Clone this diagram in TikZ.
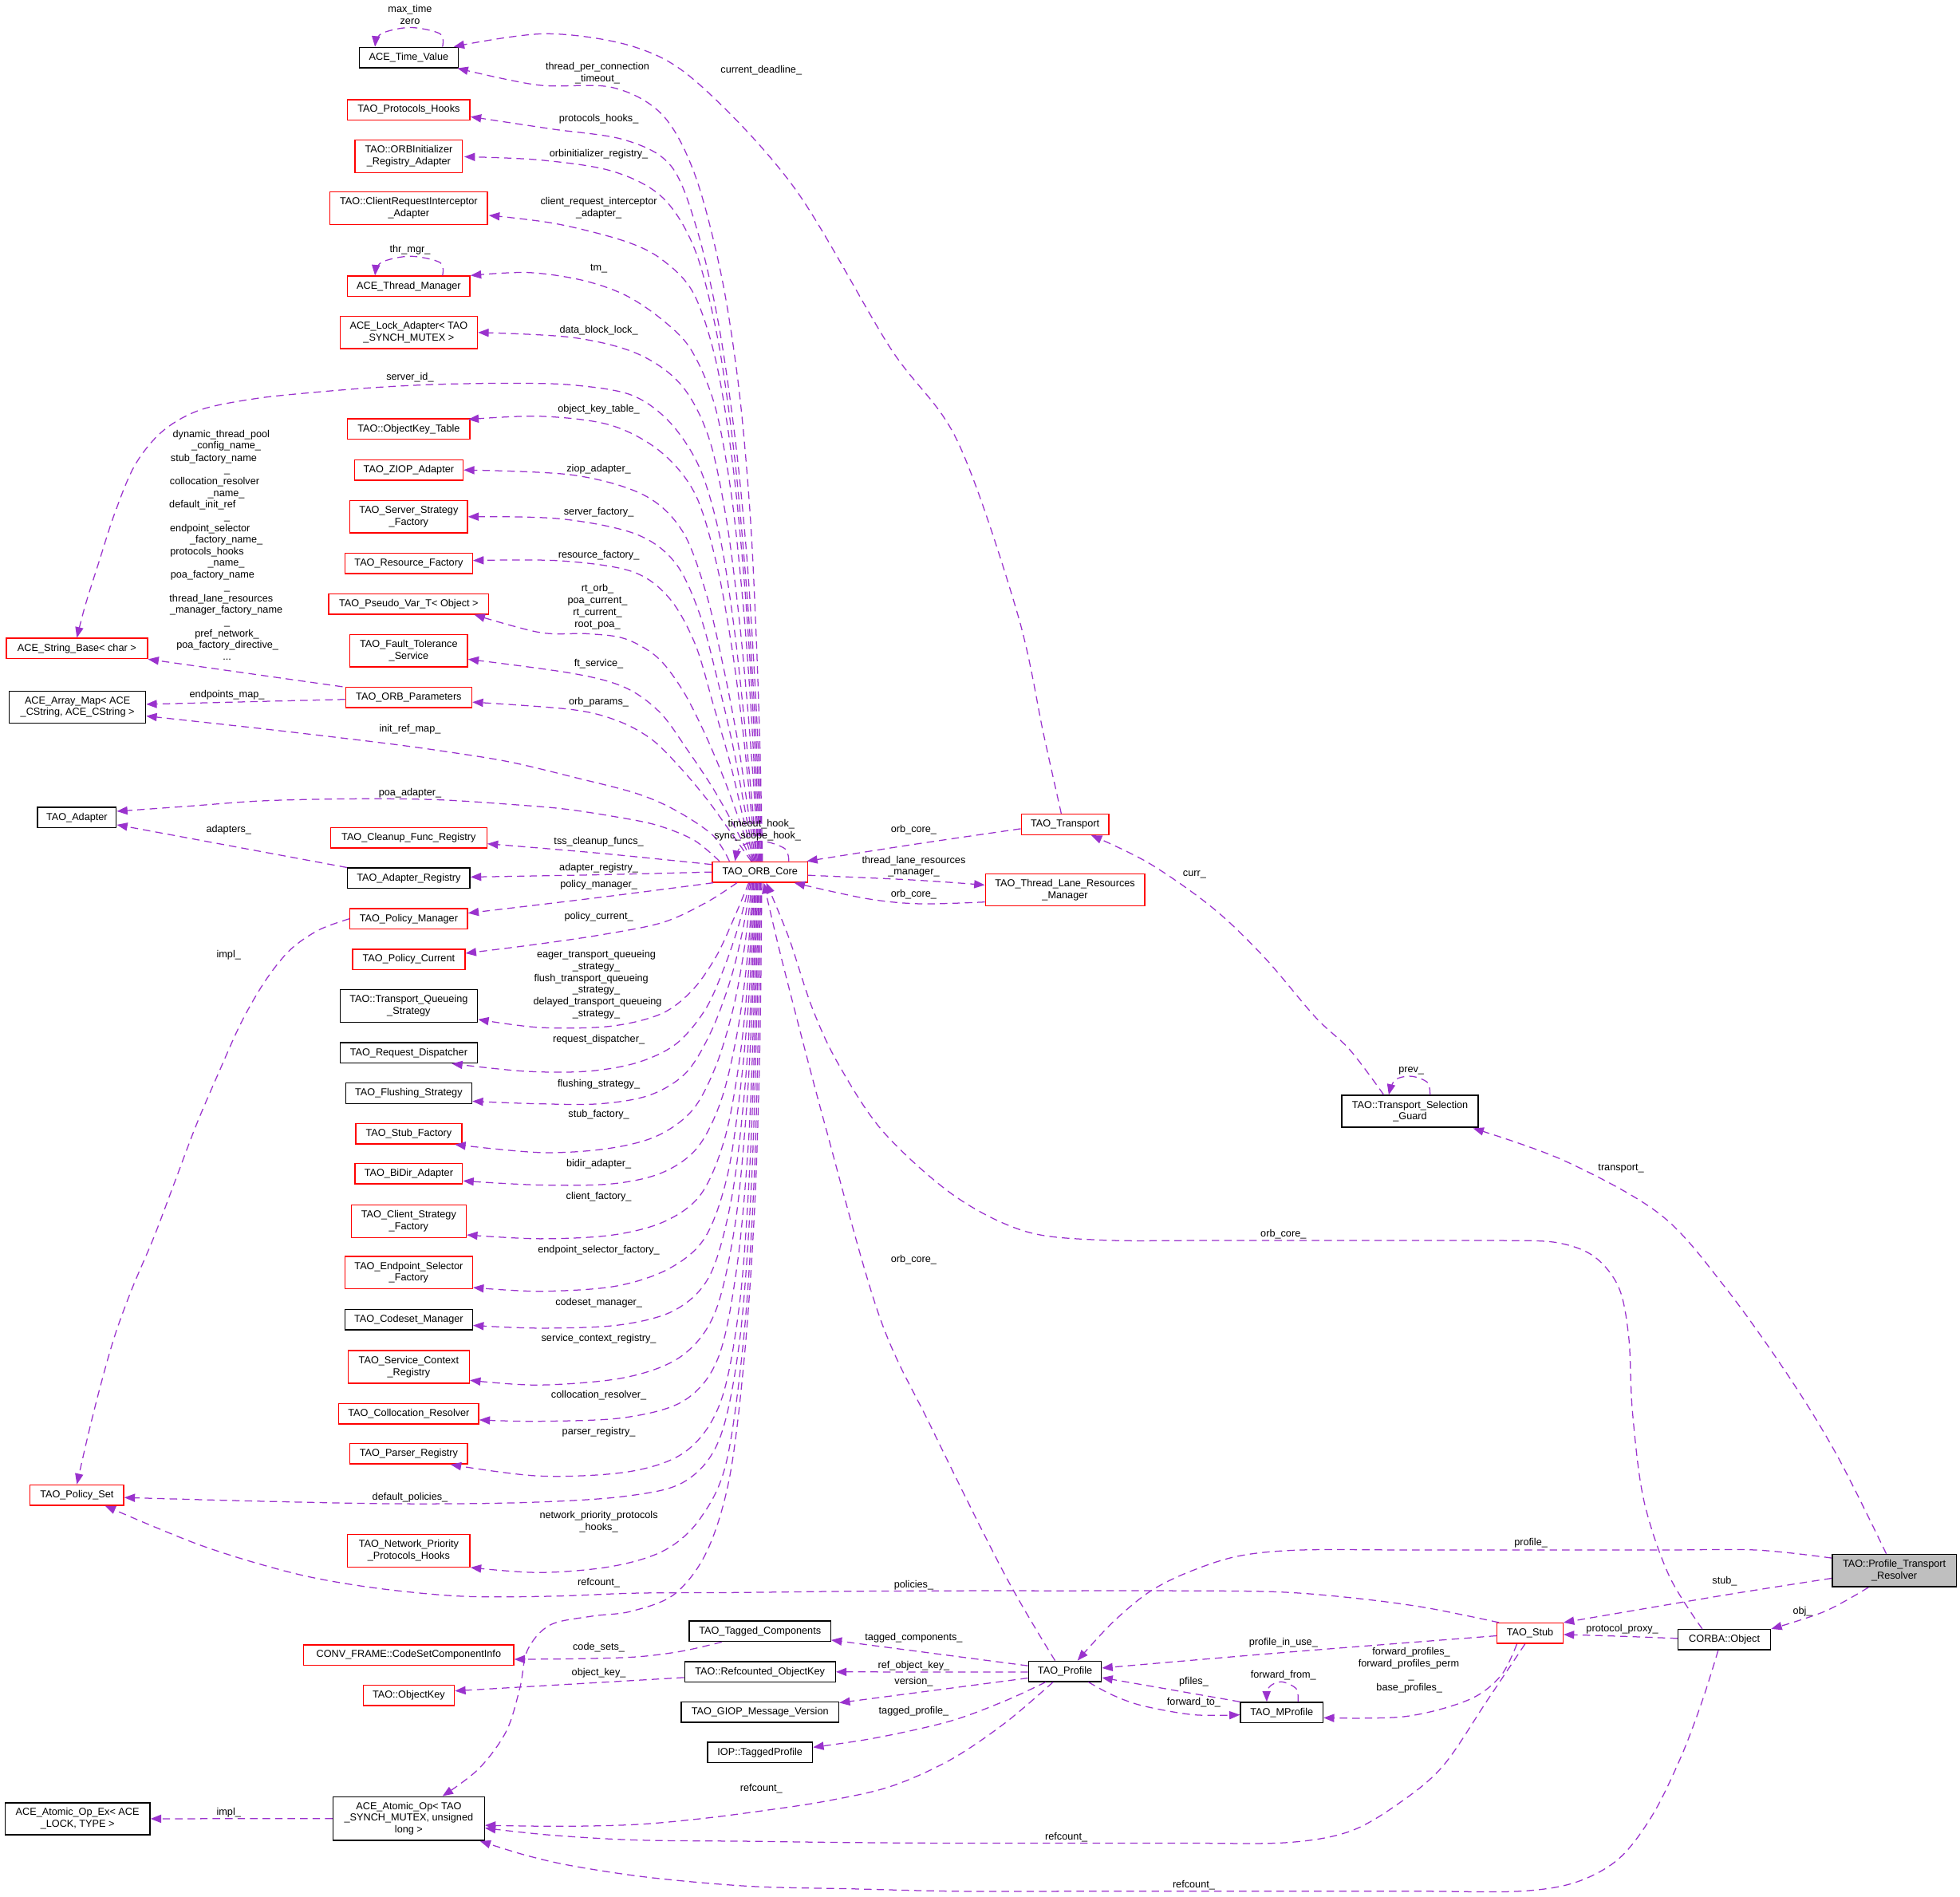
\documentclass[tikz,border=0pt]{standalone}
\usepackage{fontspec}
\setmainfont{Liberation Sans}
\usetikzlibrary{arrows.meta,calc}
\definecolor{ec}{RGB}{154,50,205}
\definecolor{gr}{RGB}{191,191,191}
\newcommand{\fs}{\fontsize{8.1}{9.4}\selectfont}
\tikzset{
 box/.style={rectangle, inner sep=1pt, align=center, font=\fs, line width=0.9pt},
 rbox/.style={box, draw=red},
 kbox/.style={box, draw=black},
 lbl/.style={inner sep=0pt, font=\fs, text height=6pt, text depth=1.6pt},
 e/.style={draw=ec, line width=0.8pt, dash pattern=on 6pt off 4pt, -{Triangle[length=8.5pt,width=6.5pt]}},
 sm/.style={smooth, tension=0.55}
}
\newcommand{\bx}[6]{\node[#1, minimum width=#2pt, minimum height=#3pt] (#4) at (#5) {#6};}
\newcommand{\lb}[3]{\node[lbl] (#1) at (#2) {#3};}
\begin{document}
\begin{tikzpicture}[x=1pt,y=-1pt]
\useasboundingbox (0,0) rectangle (1568,1517);
\fill[white] (0,0) rectangle (1568,1517);
% ---------- nodes ----------
\bx{kbox}{79}{16.3}{tv}{327,46}{ACE\_Time\_Value}
\bx{rbox}{98}{16.3}{ph}{327,87.8}{TAO\_Protocols\_Hooks}
\bx{rbox}{86}{26}{ori}{327,125}{TAO::ORBInitializer\\\_Registry\_Adapter}
\bx{rbox}{126}{26}{cri}{327,166.5}{TAO::ClientRequestInterceptor\\\_Adapter}
\bx{rbox}{98}{16.3}{thm}{327,229}{ACE\_Thread\_Manager}
\bx{rbox}{110}{26}{lock}{327,266}{ACE\_Lock\_Adapter< TAO\\\_SYNCH\_MUTEX >}
\bx{rbox}{98}{16.3}{okt}{327,343.2}{TAO::ObjectKey\_Table}
\bx{rbox}{87}{16.3}{ziop}{327,376}{TAO\_ZIOP\_Adapter}
\bx{rbox}{94}{26}{ssf}{327,413.4}{TAO\_Server\_Strategy\\\_Factory}
\bx{rbox}{102}{16.3}{rf}{327,450.8}{TAO\_Resource\_Factory}
\bx{rbox}{128}{16.3}{pv}{327,483.2}{TAO\_Pseudo\_Var\_T< Object >}
\bx{rbox}{94}{26}{ft}{327,520.5}{TAO\_Fault\_Tolerance\\\_Service}
\bx{rbox}{101}{16.3}{op}{327,558}{TAO\_ORB\_Parameters}
\bx{rbox}{113}{16.3}{sb}{61.5,518.8}{ACE\_String\_Base< char >}
\bx{kbox}{109}{25.5}{am}{62,565.6}{ACE\_Array\_Map< ACE\\\_CString, ACE\_CString >}
\bx{kbox}{63}{16.3}{ad}{61.5,654}{TAO\_Adapter}
\bx{rbox}{125}{16.3}{cf}{327,670.2}{TAO\_Cleanup\_Func\_Registry}
\bx{kbox}{98}{16.3}{ar}{327,702.6}{TAO\_Adapter\_Registry}
\bx{rbox}{76}{16.4}{orb}{608,697.6}{TAO\_ORB\_Core}
\bx{rbox}{94}{16.3}{pm}{327,735}{TAO\_Policy\_Manager}
\bx{rbox}{90}{16.3}{pc}{327,767.5}{TAO\_Policy\_Current}
\bx{kbox}{110}{26}{tqs}{327,804.7}{TAO::Transport\_Queueing\\\_Strategy}
\bx{kbox}{110}{16.3}{rd}{327,842.3}{TAO\_Request\_Dispatcher}
\bx{kbox}{101}{16.3}{fs}{327,874.6}{TAO\_Flushing\_Strategy}
\bx{rbox}{85}{16.3}{sf}{327,907}{TAO\_Stub\_Factory}
\bx{rbox}{86}{16.3}{bd}{327,939}{TAO\_BiDir\_Adapter}
\bx{rbox}{92}{26}{csf}{327,977}{TAO\_Client\_Strategy\\\_Factory}
\bx{rbox}{102}{26}{esf}{327,1018}{TAO\_Endpoint\_Selector\\\_Factory}
\bx{kbox}{102}{16.3}{cm}{327,1055.6}{TAO\_Codeset\_Manager}
\bx{rbox}{97}{26}{scr}{327,1093.5}{TAO\_Service\_Context\\\_Registry}
\bx{rbox}{112}{16.3}{cr}{327,1131}{TAO\_Collocation\_Resolver}
\bx{rbox}{94}{16.3}{pr}{327,1163}{TAO\_Parser\_Registry}
\bx{rbox}{75}{16.3}{ps}{61.5,1196}{TAO\_Policy\_Set}
\bx{rbox}{98}{26}{npph}{327,1240.5}{TAO\_Network\_Priority\\\_Protocols\_Hooks}
\bx{kbox}{113}{16.3}{tc}{608,1305}{TAO\_Tagged\_Components}
\bx{rbox}{168}{16.3}{csci}{327,1324}{CONV\_FRAME::CodeSetComponentInfo}
\bx{kbox}{120.6}{16.3}{rok}{608,1337.5}{TAO::Refcounted\_ObjectKey}
\bx{rbox}{73}{16.3}{ok}{327,1356.3}{TAO::ObjectKey}
\bx{kbox}{126}{16.3}{gmv}{608,1369.7}{TAO\_GIOP\_Message\_Version}
\bx{kbox}{84}{16.3}{itp}{608,1402}{IOP::TaggedProfile}
\bx{kbox}{116}{25.6}{aoe}{62,1455}{ACE\_Atomic\_Op\_Ex< ACE\\\_LOCK, TYPE >}
\bx{kbox}{121}{35}{ao}{327,1454.8}{ACE\_Atomic\_Op< TAO\\\_SYNCH\_MUTEX, unsigned\\long >}
\bx{rbox}{70}{16.5}{tr}{852,659.5}{TAO\_Transport}
\bx{rbox}{127.4}{25.6}{tlrm}{852,712}{TAO\_Thread\_Lane\_Resources\\\_Manager}
\bx{kbox}{109}{25.4}{tsg}{1128,889}{TAO::Transport\_Selection\\\_Guard}
\node[kbox, fill=gr, minimum width=99.3pt, minimum height=26pt] (ptr) at (1515.4,1256.4) {TAO::Profile\_Transport\\\_Resolver};
\bx{rbox}{52.7}{16.3}{stub}{1224,1306.6}{TAO\_Stub}
\bx{kbox}{74}{16.3}{co}{1379.5,1311.7}{CORBA::Object}
\bx{kbox}{58.3}{16.3}{prof}{852,1337}{TAO\_Profile}
\bx{kbox}{66}{16.3}{mp}{1025.4,1370}{TAO\_MProfile}
% ---------- edges: ORB_Core to upper left ----------
\draw[e] plot[sm] coordinates {($(orb.north)+(2,0)$) (608,600) (605,510) (600,410) (591,310) (577,220) (556,140) (530,92) (490,70) (430,68) ($(tv.south east)+(-1,0)$)};
\draw[e] plot[sm] coordinates {($(orb.north)+(1.3,0)$) (607,610) (603,530) (597,440) (588,350) (575,260) (558,185) (537,133) (500,112) (440,103) ($(ph.east)+(0,5.6)$)};
\draw[e] plot[sm] coordinates {($(orb.north)+(0.6,0)$) (606,615) (602,540) (596,455) (587,360) (574,270) (556,200) (530,158) (490,137) (432,128) ($(ori.east)+(1,0.4)$)};
\draw[e] plot[sm] coordinates {(orb.north) (605,620) (601,545) (595,460) (586,370) (573,290) (555,235) (530,208) (500,193) (445,179) ($(cri.east)+(0.7,5.8)$)};
\draw[e] plot[sm] coordinates {($(orb.north)+(-0.7,0)$) (604,625) (600,555) (594,478) (585,395) (572,325) (553,280) (530,256) (500,236) (465,224) (422,218) (thm.north east)};
\draw[e] plot[sm] coordinates {($(orb.north)+(-1.4,0)$) (603,630) (598,565) (591,492) (581,415) (567,350) (545,308) (510,283) (458,270) (lock.east)};
\draw[e] plot[sm] coordinates {($(orb.north)+(-2.1,0)$) (601,635) (595,572) (587,500) (576,430) (560,375) (536,338) (505,316) (458,308) (407,306.6) (350,307.5) (300,310) (250,314) (203.5,319) (160,328) (130,345) (108,372) (92,410) (79,450) (68,485) (sb.north)};
\draw[e] plot[sm] coordinates {($(orb.north)+(-2.8,0)$) (600,640) (594,582) (585,515) (573,450) (556,395) (528,361) (488,340) (432,333) ($(okt.north east)+(-2,1)$)};
\draw[e] plot[sm] coordinates {($(orb.north)+(-3.5,0)$) (598,645) (590,592) (579,535) (565,475) (546,425) (515,396) (458,380) (ziop.east)};
\draw[e] plot[sm] coordinates {($(orb.north)+(-4.2,0)$) (596,648) (587,600) (575,548) (560,492) (540,450) (508,427) (447.7,415) (ssf.east)};
\draw[e] plot[sm] coordinates {($(orb.north)+(-4.9,0)$) (594,652) (584,610) (571,565) (556,515) (535,478) (505,457) (447.7,448.6) ($(rf.east)+(0,-2.4)$)};
\draw[e] plot[sm] coordinates {($(orb.north)+(-5.6,0)$) (591,655) (578,620) (563,585) (546,552) (526,526) (500,511) (470,507) (432,506) ($(pv.south east)+(-12,0)$)};
\draw[e] plot[sm] coordinates {($(orb.north)+(-6.3,0)$) (587,660) (570,630) (550,600) (528,570) (500,550) (458,538.7) ($(ft.east)+(0,6.9)$)};
\draw[e] plot[sm] coordinates {($(orb.north)+(-7,0)$) (584,665) (566,640) (545,615) (522,592) (495,577) (458,567.7) ($(op.east)+(0,3.7)$)};
\draw[e] plot[sm] coordinates {($(orb.north west)+(14,0)$) (570,668) (540,648) (508.7,634.6) (460,622) (407,609.4) (355,601) (305,594.2) (210,583) ($(am.east)+(0,7.2)$)};
\draw[e] plot[sm] coordinates {($(orb.north west)+(6,0)$) (555,672) (525,660) (490,653) (450,647) (407,643.4) (355,640) (305,639) (250,639.5) (203.5,641) (150,645) ($(ad.east)+(0,-5)$)};
\draw[e] plot[sm] coordinates {($(orb.west)+(0,-6)$) (479,682.5) ($(cf.east)+(0,4.8)$)};
\draw[e] plot[sm] coordinates {(orb.west) (479,699.8) ($(ar.east)+(0,-1)$)};
% ---------- edges: ORB_Core to lower left ----------
\draw[e] plot[sm] coordinates {($(orb.south west)+(1,0)$) (479,718) ($(pm.east)+(0,-4.5)$)};
\draw[e] plot[sm] coordinates {($(orb.south west)+(20,0)$) (565,722) (530,738) (480,748) (425,756) ($(pc.east)+(0,-4.9)$)};
\draw[e] plot[sm] coordinates {($(orb.south)+(-9,0)$) (587,735) (573,765) (554,792) (529,811) (488,821) (432,822) ($(tqs.east)+(0,10.8)$)};
\draw[e] plot[sm] coordinates {($(orb.south)+(-8.2,0)$) (591,740) (579,775) (564,808) (541,835) (510,850) (470,857) (420,857) ($(rd.south east)+(-21,0)$)};
\draw[e] plot[sm] coordinates {($(orb.south)+(-7.4,0)$) (594,745) (584,785) (569,825) (549,858) (520,876) (480,883) (430,883) ($(fs.east)+(0,6.4)$)};
\draw[e] plot[sm] coordinates {($(orb.south)+(-6.6,0)$) (596,755) (587,805) (573,852) (554,888) (525,909) (485,919) (432,922) ($(sf.south east)+(-6,0)$)};
\draw[e] plot[sm] coordinates {($(orb.south)+(-5.8,0)$) (598,765) (590,825) (577,880) (558,918) (530,938) (490,947) (432,948) ($(bd.east)+(0,5.7)$)};
\draw[e] plot[sm] coordinates {($(orb.south)+(-5,0)$) (599,775) (592,845) (580,910) (561,955) (532,977) (490,988) (432,991) ($(csf.east)+(0,10.9)$)};
\draw[e] plot[sm] coordinates {($(orb.south)+(-4.2,0)$) (600,785) (593,865) (582,940) (564,990) (535,1015) (492,1029) (432,1033) ($(esf.east)+(0,12)$)};
\draw[e] plot[sm] coordinates {($(orb.south)+(-3.4,0)$) (601,795) (595,880) (585,960) (568,1020) (540,1048) (495,1060) (432,1062.5) ($(cm.east)+(0,4.7)$)};
\draw[e] plot[sm] coordinates {($(orb.south)+(-2.6,0)$) (602,800) (597,890) (588,980) (572,1050) (545,1085) (500,1102) (432,1108) ($(scr.east)+(0,10.7)$)};
\draw[e] plot[sm] coordinates {($(orb.south)+(-1.8,0)$) (603,810) (599,910) (590,1010) (575,1085) (548,1120) (500,1134) (432,1137) ($(cr.east)+(0,4.9)$)};
\draw[e] plot[sm] coordinates {($(orb.south)+(-1,0)$) (604,820) (600,930) (592,1040) (577,1120) (550,1160) (505,1177) (432,1180.8) ($(pr.south east)+(-14,0)$)};
\draw[e] plot[sm] coordinates {($(orb.south)+(-0.2,0)$) (605,830) (601,950) (592,1070) (576,1150) (548,1185) (500,1197) (420,1202) (320,1203) (210,1201) ($(ps.east)+(0,2)$)};
\draw[e] plot[sm] coordinates {($(orb.south)+(0.6,0)$) (606.5,830) (603,950) (595,1070) (581,1170) (560,1215) (532,1240) (490,1253) (432,1258) (npph.south east)};
\draw[e] plot[sm] coordinates {($(orb.south)+(1.4,0)$) (608,830) (604,960) (596,1080) (584,1180) (566,1240) (540,1275) (505,1289) (473,1293) (440,1300) (422,1320) (416,1350) (405,1385) (383,1415) ($(ao.north)+(27,0)$)};
% ---------- self loops ----------
\draw[e] plot[sm] coordinates {($(tv.north)+(27,0)$) (352,27) (328,22) (305,27) ($(tv.north)+(-27,0)$)};
\draw[e] plot[sm] coordinates {($(thm.north)+(27,0)$) (352,210) (328,205) (305,210) ($(thm.north)+(-27,0)$)};
\draw[e] plot[sm] coordinates {($(orb.north)+(23,0)$) (628,679) (610,673) (593,677) ($(orb.north)+(-20,0)$)};
\draw[e] plot[sm] coordinates {($(tsg.north)+(16,0)$) (1142,866) (1129,861) (1116,864) ($(tsg.north)+(-17,0)$)};
\draw[e] plot[sm] coordinates {($(mp.north)+(13,0)$) (1037,1351) (1025,1345.4) (1015,1350) ($(mp.north)+(-12,0)$)};
% ---------- right side ----------
\draw[e] plot[sm] coordinates {($(tr.north)+(-3,0)$) (835,588) (814,491) (766,353) (712,278) (636,151) (560,68) (509,38) (437,27) ($(tv.north east)+(-4,0)$)};
\draw[e] plot[sm] coordinates {($(tr.west)+(0,3.5)$) (731,675.5) ($(orb.north east)+(-1,0)$)};
\draw[e] plot[sm] coordinates {($(orb.east)+(0,2.6)$) (731,704) ($(tlrm.west)+(0,-4)$)};
\draw[e] plot[sm] coordinates {($(tlrm.west)+(0,9.6)$) (735,723) (692.3,718.7) ($(orb.south east)+(-11,0)$)};
\draw[e] plot[sm] coordinates {($(prof.north)+(-8,0)$) (804,1260) (745,1141.8) (703.5,1053) (660,900) (626,770) ($(orb.south)+(3,0)$)};
\draw[e] plot[sm] coordinates {($(co.north)+(-17.7,0)$) (1335,1260) (1315,1200) (1306,1130) (1303,1070) (1295,1030) (1275,1005) (1245,994) (1200,992.4) (1130,992.4) (1050,992.4) (960,992.4) (880,992) (820,985) (763.5,956.6) (706.5,905.3) (670,850) (649.5,805.6) (631,750) ($(orb.south)+(5,0)$)};
\draw[e] plot[sm] coordinates {($(tsg.north)+(-21,0)$) (1080,840) (1052.3,813.7) (1011.4,765.8) (970.4,726.5) (919.3,690.6) ($(tr.south)+(21,0)$)};
\draw[e] plot[sm] coordinates {($(ptr.north)+(-6.4,0)$) (1470,1165) (1430.9,1101) (1379.7,1029.3) (1328.5,971.8) (1251.8,928.7) ($(tsg.south east)+(-4.5,0.5)$)};
\draw[e] plot[sm] coordinates {($(ptr.west)+(0,-10)$) (1405,1240) (1330,1240) (1230,1240) (1130,1240) (1040,1240) (990,1245) (950,1258) (919.3,1273.6) (890,1298) ($(prof.north)+(10,0)$)};
\draw[e] plot[sm] coordinates {($(ptr.west)+(0,6.2)$) (1380,1276) (stub.north east)};
\draw[e] plot[sm] coordinates {($(ptr.south)+(-20.6,0)$) (1460,1289) (co.north east)};
\draw[e] plot[sm] coordinates {($(co.west)+(0,-1)$) (1297,1309) ($(stub.east)+(0,1)$)};
\draw[e] plot[sm] coordinates {($(stub.north west)+(2,0)$) (1140,1286) (1083,1278.4) (1022,1273.5) (940,1272.6) (850,1272.6) (766,1272.6) (680,1273) (590,1274) (508.7,1274.5) (440,1277) (370,1277) (305,1271) (250,1262) (203.5,1250) (160,1236) (120,1220) ($(ps.south)+(22.5,0)$)};
\draw[e] plot[sm] coordinates {($(stub.west)+(0,2)$) (1026.7,1322) ($(prof.east)+(0,-2.6)$)};
\draw[e] plot[sm] coordinates {($(stub.south)+(-10.5,0)$) (1200.6,1340.6) (1175,1359.8) (1124,1373.2) ($(mp.east)+(0,4.2)$)};
\draw[e] plot[sm] coordinates {($(stub.south)+(-4,0)$) (1190,1360) (1154.6,1412.5) (1120,1442) (1080,1465) (1030,1474) (950,1474.5) (860,1474.5) (766,1474.5) (680,1474) (600,1473) (508.7,1472) (440,1468) ($(ao.east)+(0,7.6)$)};
\draw[e] plot[sm] coordinates {($(co.south)+(-5,0)$) (1362,1360) (1345,1405) (1322,1452) (1295,1487) (1260,1506) (1215,1513) (1140,1513) (1050,1513) (960,1513) (860,1513) (766,1513) (680,1511) (600,1509) (520,1502) (458,1492.7) (420,1484) ($(ao.south east)+(-4,0)$)};
\draw[e] plot[sm] coordinates {($(prof.south)+(-9.5,0)$) (804,1378.4) (760,1408) (712,1429.3) (660,1441) (610,1448.6) (560,1455) (508.7,1459.6) (450,1461) ($(ao.east)+(0,5.4)$)};
\draw[e] plot[sm] coordinates {($(prof.south)+(-15.4,0)$) (804,1360.7) (759.7,1377) (700.5,1390.3) ($(itp.east)+(0,-4.2)$)};
\draw[e] ($(prof.west)+(0,5.4)$) -- ($(gmv.east)+(0,-7.5)$);
\draw[e] ($(prof.west)+(0,0.6)$) -- (rok.east);
\draw[e] ($(prof.west)+(0,-4.4)$) -- ($(tc.east)+(0,7)$);
\draw[e] (mp.north west) -- ($(prof.east)+(0,5.1)$);
\draw[e] plot[sm] coordinates {($(prof.south)+(18.7,0)$) (890,1356) (914.2,1364.6) (955,1371.8) ($(mp.west)+(0,1.8)$)};
\draw[e] plot[sm] coordinates {($(tc.south)+(-30.6,0)$) (545,1321) (508.7,1325.5) (460,1327) ($(csci.east)+(0,3.4)$)};
\draw[e] ($(rok.west)+(0,4.5)$) -- ($(ok.east)+(0,-3.6)$);
\draw[e] (ao.west) -- (aoe.east);
\draw[e] plot[sm] coordinates {(pm.west) (255,744) (232,760) (212,785) (193,818) (175,858) (157,900) (140,945) (123,990) (106,1030) (92,1068) (80,1110) (70,1150) (ps.north)};
\draw[e] (ar.north west) -- ($(ad.east)+(0,5.8)$);
\draw[e] ($(op.west)+(0,1.5)$) -- ($(am.east)+(0,-2.2)$);
\draw[e] ($(op.north west)+(-2,0)$) -- (sb.south east);
% ---------- labels ----------
\lb{l1}{328,7.6}{max\_time}
\lb{l2}{328,17}{zero}
\lb{l3}{478,53.5}{thread\_per\_connection}
\lb{l4}{478,63}{\_timeout\_}
\lb{l5}{609,56}{current\_deadline\_}
\lb{l6}{479,95}{protocols\_hooks\_}
\lb{l7}{479,123}{orbinitializer\_registry\_}
\lb{l8}{479,161.5}{client\_request\_interceptor}
\lb{l9}{479,171}{\_adapter\_}
\lb{l10}{328,200}{thr\_mgr\_}
\lb{l11}{479,214.5}{tm\_}
\lb{l12}{479,264}{data\_block\_lock\_}
\lb{l13}{328,302}{server\_id\_}
\lb{l14}{479,327.5}{object\_key\_table\_}
\lb{l15}{479,375}{ziop\_adapter\_}
\lb{s1}{177,347.7}{dynamic\_thread\_pool}
\lb{s2}{181,357}{\_config\_name\_}
\lb{s3}{171,366.9}{stub\_factory\_name}
\lb{s4}{181.6,376.1}{\_}
\lb{s5}{171.7,385.3}{collocation\_resolver}
\lb{s6}{181,394.9}{\_name\_}
\lb{s7}{162,403.7}{default\_init\_ref}
\lb{s8}{181.6,413.3}{\_}
\lb{s9}{168,422.9}{endpoint\_selector}
\lb{s10}{181,432}{\_factory\_name\_}
\lb{s11}{165.6,441.6}{protocols\_hooks}
\lb{s12}{181,450.9}{\_name\_}
\lb{s13}{170,460}{poa\_factory\_name}
\lb{s14}{181.6,469.8}{\_}
\lb{s15}{177,479}{thread\_lane\_resources}
\lb{s16}{181,488.3}{\_manager\_factory\_name}
\lb{s17}{181.6,497.7}{\_}
\lb{s18}{181.6,507.2}{pref\_network\_}
\lb{s19}{182,516.3}{poa\_factory\_directive\_}
\lb{s20}{181.6,525.6}{...}
\lb{l16}{479,410}{server\_factory\_}
\lb{l17}{479,444}{resource\_factory\_}
\lb{l18}{478,471.3}{rt\_orb\_}
\lb{l19}{478,480.7}{poa\_current\_}
\lb{l20}{478,490}{rt\_current\_}
\lb{l21}{478,499.6}{root\_poa\_}
\lb{l22}{479,531}{ft\_service\_}
\lb{l23}{479,561.7}{orb\_params\_}
\lb{l24}{181.6,556}{endpoints\_map\_}
\lb{l25}{328,583.6}{init\_ref\_map\_}
\lb{l26}{328,634.6}{poa\_adapter\_}
\lb{l27}{183,663.6}{adapters\_}
\lb{l28}{609,659}{timeout\_hook\_}
\lb{l29}{606,668.6}{sync\_scope\_hook\_}
\lb{l30}{479,673.2}{tss\_cleanup\_funcs\_}
\lb{l31}{731,663.6}{orb\_core\_}
\lb{l32}{479,694.4}{adapter\_registry\_}
\lb{l33}{731,688.4}{thread\_lane\_resources}
\lb{l34}{731,697.4}{\_manager\_}
\lb{l35}{479,708}{policy\_manager\_}
\lb{l36}{731,715.3}{orb\_core\_}
\lb{l37}{183,764}{impl\_}
\lb{l38}{479,733.3}{policy\_current\_}
\lb{l39}{477,764}{eager\_transport\_queueing}
\lb{l40}{477,773.4}{\_strategy\_}
\lb{l41}{473,783}{flush\_transport\_queueing}
\lb{l42}{477,791.8}{\_strategy\_}
\lb{l43}{478,801.7}{delayed\_transport\_queueing}
\lb{l44}{477,811.3}{\_strategy\_}
\lb{l45}{479,831.4}{request\_dispatcher\_}
\lb{l46}{479,867.3}{flushing\_strategy\_}
\lb{l47}{479,891.5}{stub\_factory\_}
\lb{l48}{479,931}{bidir\_adapter\_}
\lb{l49}{479,957.4}{client\_factory\_}
\lb{l50}{479,1000}{endpoint\_selector\_factory\_}
\lb{l51}{731,1008}{orb\_core\_}
\lb{l52}{479,1042}{codeset\_manager\_}
\lb{l53}{479,1071}{service\_context\_registry\_}
\lb{l54}{479,1116}{collocation\_resolver\_}
\lb{l55}{479,1145.5}{parser\_registry\_}
\lb{l56}{328,1198}{default\_policies\_}
\lb{l57}{479,1212.5}{network\_priority\_protocols}
\lb{l58}{479,1222}{\_hooks\_}
\lb{l59}{479,1266}{refcount\_}
\lb{l60}{731,1268}{policies\_}
\lb{l61}{731,1310}{tagged\_components\_}
\lb{l62}{479,1317.7}{code\_sets\_}
\lb{l63}{731,1332.6}{ref\_object\_key\_}
\lb{l64}{479,1338}{object\_key\_}
\lb{l65}{731,1345}{version\_}
\lb{l66}{731,1368.7}{tagged\_profile\_}
\lb{l67}{609,1431}{refcount\_}
\lb{l68}{183,1450}{impl\_}
\lb{l69}{853,1469.5}{refcount\_}
\lb{l70}{955,1508.3}{refcount\_}
\lb{l71}{955.6,699}{curr\_}
\lb{l72}{1129,855.9}{prev\_}
\lb{l73}{1296.8,934.4}{transport\_}
\lb{l74}{1026.7,987}{orb\_core\_}
\lb{l75}{1224.7,1234.3}{profile\_}
\lb{l76}{1379.7,1265}{stub\_}
\lb{l77}{1442,1289}{obj\_}
\lb{l78}{1297.8,1303.3}{protocol\_proxy\_}
\lb{l79}{1026.7,1314.3}{profile\_in\_use\_}
\lb{l80}{1129,1322}{forward\_profiles\_}
\lb{l81}{1127,1331.5}{forward\_profiles\_perm}
\lb{l82}{1129,1340.8}{\_}
\lb{l83}{1127.5,1350.2}{base\_profiles\_}
\lb{l84}{1026.7,1340.2}{forward\_from\_}
\lb{l85}{955,1345}{pfiles\_}
\lb{l86}{955,1362.2}{forward\_to\_}
\end{tikzpicture}
\end{document}
